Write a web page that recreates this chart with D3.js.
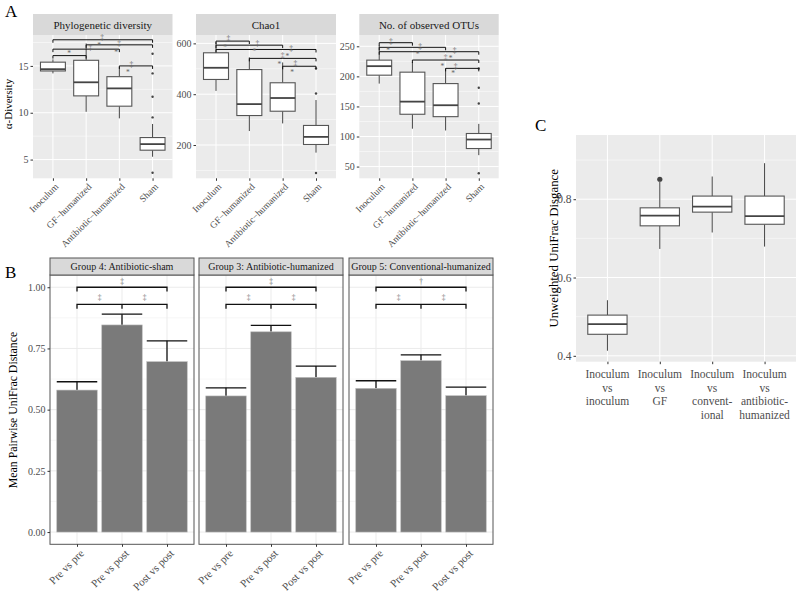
<!DOCTYPE html>
<html>
<head>
<meta charset="utf-8">
<script src="https://cdn.jsdelivr.net/npm/d3@7"></script>
<style>
  body { margin: 0; background: #fff; }
  svg text { font-family: "Liberation Serif", "DejaVu Serif", serif; }
</style>
</head>
<body>
<svg id="fig"></svg>
<script>
// ---- data ----
const alphaCats = ["Inoculum", "GF\u2212humanized", "Antibiotic\u2212humanized", "Sham"];
const alphaTitles = ["Phylogenetic diversity", "Chao1", "No. of observed OTUs"];

// [lower whisker, q1, median, q3, upper whisker]
const pdBoxes = [[14.2, 14.46, 14.65, 15.4, 15.7], [10.1, 11.8, 13.25, 15.6, 17.4], [9.4, 10.7, 12.6, 13.85, 14.9], [5.3, 6.0, 6.65, 7.35, 8.8]];
const pdOutliers = [[], [], [], [16.3, 14.2, 11.7, 9.5, 3.6]];
const pdTicks = [5, 10, 15];
const pdBrackets = [[0, 3, 17.79], [1, 3, 17.25], [0, 2, 16.79], [0, 1, 16.1], [2, 3, 15.0]];
const pdMarks = [[1.48, 18.08, "\u2021"], [1.99, 17.43, "\u2021"], [1.13, 17.0, "\u2021"], [1.39, 17.18, "*"], [0.49, 16.36, "*"], [1.9, 16.47, "*"], [2.36, 15.21, "\u2021"], [2.26, 14.28, "*"]];

const chaoBoxes = [[413, 458, 504, 563, 605], [255, 316, 361, 497, 545], [285, 333, 385, 445, 525], [170, 202, 232, 277, 377]];
const chaoOutliers = [[], [], [], [501, 403, 90]];
const chaoTicks = [200, 400, 600];
const chaoBrackets = [[0, 1, 609], [0, 2, 593], [0, 3, 576], [1, 3, 541], [2, 3, 510]];
const chaoMarks = [[0.37, 618, "\u2021"], [0.27, 584, "*"], [1.24, 600, "\u2021"], [1.15, 567, "*"], [2.25, 582, "\u2021"], [2.0, 551, "\u2021"], [2.14, 550, "*"], [1.9, 518, "*"], [2.38, 521, "\u2021"], [2.28, 484, "*"]];

const otuBoxes = [[188, 202, 217, 227, 252], [113, 137, 158, 207, 224], [110, 133, 152, 188, 213], [69, 80, 95, 105, 121]];
const otuOutliers = [[], [], [], [213, 181, 155, 39]];
const otuTicks = [50, 100, 150, 200, 250];
const otuBrackets = [[0, 1, 256], [0, 2, 248.3], [0, 3, 241], [1, 3, 227.2], [2, 3, 213.3]];
const otuMarks = [[0.35, 258, "\u2021"], [0.27, 243.8, "*"], [1.23, 250, "\u2021"], [1.16, 236.7, "*"], [2.27, 243, "\u2021"], [2.0, 231, "\u2021"], [2.15, 230, "*"], [1.9, 216, "*"], [2.3, 217, "\u2021"], [2.23, 205, "*"]];

const pairCats = ["Pre vs pre", "Pre vs post", "Post vs post"];
const groupNames = ["Group 4: Antibiotic-sham", "Group 3: Antibiotic-humanized", "Group 5: Conventional-humanized"];
const meanDist = [[0.58, 0.846, 0.696], [0.556, 0.818, 0.632], [0.587, 0.70, 0.557]];
const upperErr = [[0.614, 0.89, 0.781], [0.589, 0.844, 0.678], [0.618, 0.724, 0.592]];
const overallSig = ["\u2021", "\u2021", "\u2020"];
const pairSig = [["\u2021", "\u2021"], ["\u2021", "\u2021"], ["\u2021", "\u2021"]];
const bTicks = [0, 0.25, 0.5, 0.75, 1];

const cCats = [["Inoculum", "vs", "inoculum"], ["Inoculum", "vs", "GF"], ["Inoculum", "vs", "convent-", "ional"], ["Inoculum", "vs", "antibiotic-", "humanized"]];
const cBoxes = [[0.413, 0.455, 0.481, 0.504, 0.542], [0.673, 0.732, 0.758, 0.778, 0.845], [0.715, 0.767, 0.781, 0.808, 0.858], [0.679, 0.736, 0.757, 0.808, 0.892]];
const cOutliers = [[], [0.851], [], []];
const cTicks = [0.4, 0.6, 0.8];

// ---- drawing ----
const FONT = "Liberation Serif, DejaVu Serif, serif";
const svg = d3.select("#fig").attr("width", 797).attr("height", 594).attr("font-family", FONT);
svg.append("rect").attr("width", 797).attr("height", 594).attr("fill", "#fff");

function minorOf(ticks, dom) {
  const step = ticks[1] - ticks[0];
  const out = [];
  for (let v = ticks[0] - step / 2; v < dom[1] + step; v += step) {
    if (v > dom[0] && v < dom[1]) out.push(v);
  }
  return out;
}

function styleAxis(ax, size) {
  ax.attr("font-family", FONT);
  ax.select(".domain").remove();
  ax.selectAll("line").attr("stroke", "#333");
  ax.selectAll("text").attr("font-size", size).attr("fill", "#4d4d4d");
}

function drawBoxes(g, x, y, boxes, outliers, bw, ptR) {
  boxes.forEach((b, i) => {
    const cx = x(x.domain()[i]);
    g.append("line").attr("x1", cx).attr("x2", cx).attr("y1", y(b[0])).attr("y2", y(b[1]))
      .attr("stroke", "#444").attr("stroke-width", 1);
    g.append("line").attr("x1", cx).attr("x2", cx).attr("y1", y(b[3])).attr("y2", y(b[4]))
      .attr("stroke", "#444").attr("stroke-width", 1);
    g.append("rect").attr("x", cx - bw / 2).attr("y", y(b[3])).attr("width", bw).attr("height", y(b[1]) - y(b[3]))
      .attr("fill", "#fff").attr("stroke", "#555").attr("stroke-width", 1.1);
    g.append("line").attr("x1", cx - bw / 2).attr("x2", cx + bw / 2).attr("y1", y(b[2])).attr("y2", y(b[2]))
      .attr("stroke", "#444").attr("stroke-width", 1.8);
    outliers[i].forEach(v => {
      g.append("circle").attr("cx", cx).attr("cy", y(v)).attr("r", ptR).attr("fill", "#444");
    });
  });
}

// Panel A
svg.append("text").attr("x", 5).attr("y", 17).attr("font-size", 17).text("A");
const aFacets = [
  { boxes: pdBoxes, out: pdOutliers, ticks: pdTicks, br: pdBrackets, marks: pdMarks, dom: [3.0, 18.3], x0: 33, x1: 172.5 },
  { boxes: chaoBoxes, out: chaoOutliers, ticks: chaoTicks, br: chaoBrackets, marks: chaoMarks, dom: [69, 633], x0: 196, x1: 336 },
  { boxes: otuBoxes, out: otuOutliers, ticks: otuTicks, br: otuBrackets, marks: otuMarks, dom: [30.5, 268.8], x0: 359.3, x1: 498.7 }
];
const aTop = 35, aBot = 178.3;

aFacets.forEach((f, k) => {
  const g = svg.append("g");
  const x = d3.scalePoint().domain(alphaCats).range([f.x0, f.x1]).padding(0.6);
  const y = d3.scaleLinear().domain(f.dom).range([aBot, aTop]);
  // strip
  g.append("rect").attr("x", f.x0).attr("y", 14).attr("width", f.x1 - f.x0).attr("height", aTop - 14).attr("fill", "#d9d9d9");
  g.append("text").attr("x", (f.x0 + f.x1) / 2).attr("y", 28.5).attr("text-anchor", "middle")
    .attr("font-size", 11).attr("fill", "#1a1a1a").text(alphaTitles[k]);
  // panel
  g.append("rect").attr("x", f.x0).attr("y", aTop).attr("width", f.x1 - f.x0).attr("height", aBot - aTop).attr("fill", "#ebebeb");
  g.selectAll(".mn").data(minorOf(f.ticks, f.dom)).join("line")
    .attr("x1", f.x0).attr("x2", f.x1).attr("y1", d => y(d)).attr("y2", d => y(d))
    .attr("stroke", "#fff").attr("stroke-width", 0.5);
  g.selectAll(".mj").data(f.ticks).join("line")
    .attr("x1", f.x0).attr("x2", f.x1).attr("y1", d => y(d)).attr("y2", d => y(d))
    .attr("stroke", "#fff").attr("stroke-width", 1);
  g.selectAll(".vx").data(alphaCats).join("line")
    .attr("x1", d => x(d)).attr("x2", d => x(d)).attr("y1", aTop).attr("y2", aBot)
    .attr("stroke", "#fff").attr("stroke-width", 1);
  // axes
  styleAxis(g.append("g").attr("transform", `translate(${f.x0},0)`)
    .call(d3.axisLeft(y).tickValues(f.ticks).tickSize(2.5).tickPadding(2)), 10);
  styleAxis(g.append("g").attr("transform", `translate(0,${aBot})`)
    .call(d3.axisBottom(x).tickSize(2.5).tickFormat("")), 9);
  g.selectAll(".xl").data(alphaCats).join("text")
    .attr("transform", d => `translate(${x(d) + 2},${aBot + 5}) rotate(-45)`)
    .attr("text-anchor", "end").attr("dy", "0.6em").attr("font-size", 9.5).attr("fill", "#4d4d4d").text(d => d);
  // boxes
  drawBoxes(g, x, y, f.boxes, f.out, x.step() * 0.75, 1.2);
  // brackets
  const tick = 3;
  f.br.forEach(b => {
    const xa1 = x(alphaCats[b[0]]), xb1 = x(alphaCats[b[1]]), yy = y(b[2]);
    g.append("path").attr("d", `M${xa1},${yy + tick}V${yy}H${xb1}V${yy + tick}`)
      .attr("fill", "none").attr("stroke", "#111").attr("stroke-width", 1);
  });
  f.marks.forEach(m => {
    g.append("text").attr("x", x(alphaCats[0]) + m[0] * x.step()).attr("y", y(m[1]))
      .attr("dy", "0.35em").attr("text-anchor", "middle").attr("font-size", 7.5).attr("fill", "#666").text(m[2]);
  });
});
svg.append("text").attr("transform", "translate(12,104) rotate(-90)").attr("text-anchor", "middle")
  .attr("font-size", 11).text("\u03b1-Diversity");

// Panel B
svg.append("text").attr("x", 5).attr("y", 278).attr("font-size", 17).text("B");
const bX = [[50, 194], [199, 343], [349, 493]];
const bStripTop = 258, bTop = 275, bBot = 544.3;
const yB = d3.scaleLinear().domain([-0.05, 1.05]).range([bBot, bTop]);
groupNames.forEach((name, k) => {
  const [x0, x1] = bX[k];
  const g = svg.append("g");
  const x = d3.scalePoint().domain(pairCats).range([x0, x1]).padding(0.6);
  const bw = x.step() * 0.9;
  g.append("rect").attr("x", x0).attr("y", bTop).attr("width", x1 - x0).attr("height", bBot - bTop).attr("fill", "#fff");
  g.selectAll(".mn").data(minorOf(bTicks, [-0.05, 1.05])).join("line")
    .attr("x1", x0).attr("x2", x1).attr("y1", d => yB(d)).attr("y2", d => yB(d))
    .attr("stroke", "#f2f2f2").attr("stroke-width", 0.6);
  g.selectAll(".mj").data(bTicks).join("line")
    .attr("x1", x0).attr("x2", x1).attr("y1", d => yB(d)).attr("y2", d => yB(d))
    .attr("stroke", "#ebebeb").attr("stroke-width", 1);
  g.selectAll(".vx").data(pairCats).join("line")
    .attr("x1", d => x(d)).attr("x2", d => x(d)).attr("y1", bTop).attr("y2", bBot)
    .attr("stroke", "#ebebeb").attr("stroke-width", 1);
  // error bars (upper part)
  meanDist[k].forEach((v, i) => {
    const cx = x(pairCats[i]);
    g.append("line").attr("x1", cx).attr("x2", cx).attr("y1", yB(v)).attr("y2", yB(upperErr[k][i]))
      .attr("stroke", "#111").attr("stroke-width", 1.3);
    g.append("line").attr("x1", cx - bw / 2).attr("x2", cx + bw / 2).attr("y1", yB(upperErr[k][i])).attr("y2", yB(upperErr[k][i]))
      .attr("stroke", "#111").attr("stroke-width", 1.3);
  });
  g.selectAll(".bar").data(meanDist[k]).join("rect")
    .attr("x", (d, i) => x(pairCats[i]) - bw / 2).attr("y", d => yB(d))
    .attr("width", bw).attr("height", d => yB(0) - yB(d))
    .attr("fill", "#7a7a7a").attr("stroke", "#bdbdbd").attr("stroke-width", 0.6);
  // brackets
  const xa = x(pairCats[0]), xm = x(pairCats[1]), xb = x(pairCats[2]);
  const t = 4.3;
  g.append("path").attr("d", `M${xa},${yB(1) + t}V${yB(1)}H${xb}V${yB(1) + t}`)
    .attr("fill", "none").attr("stroke", "#111").attr("stroke-width", 1.3);
  const yl = yB(0.93);
  g.append("path").attr("d", `M${xa},${yl + t}V${yl}H${xb}V${yl + t}M${xm},${yl}V${yl + t}`)
    .attr("fill", "none").attr("stroke", "#111").attr("stroke-width", 1.3);
  g.append("text").attr("x", xm).attr("y", yB(1.025)).attr("dy", "0.35em").attr("text-anchor", "middle")
    .attr("font-size", 7.5).attr("fill", "#777").text(overallSig[k]);
  pairSig[k].forEach((s, i) => {
    g.append("text").attr("x", (x(pairCats[i]) + x(pairCats[i + 1])) / 2).attr("y", yB(0.958)).attr("dy", "0.35em")
      .attr("text-anchor", "middle").attr("font-size", 7.5).attr("fill", "#777").text(s);
  });
  // border + strip
  g.append("rect").attr("x", x0).attr("y", bTop).attr("width", x1 - x0).attr("height", bBot - bTop)
    .attr("fill", "none").attr("stroke", "#555").attr("stroke-width", 1);
  g.append("rect").attr("x", x0).attr("y", bStripTop).attr("width", x1 - x0).attr("height", bTop - bStripTop)
    .attr("fill", "#d9d9d9").attr("stroke", "#555").attr("stroke-width", 1);
  g.append("text").attr("x", (x0 + x1) / 2).attr("y", bStripTop + 12.3).attr("text-anchor", "middle")
    .attr("font-size", 10).attr("fill", "#1a1a1a").text(name);
  // axes
  if (k === 0) {
    styleAxis(g.append("g").attr("transform", `translate(${x0},0)`)
      .call(d3.axisLeft(yB).tickValues(bTicks).tickFormat(d3.format(".2f")).tickSize(2.5).tickPadding(2)), 10);
  }
  styleAxis(g.append("g").attr("transform", `translate(0,${bBot})`)
    .call(d3.axisBottom(x).tickSize(2.5).tickFormat("")), 10);
  g.selectAll(".xl").data(pairCats).join("text")
    .attr("transform", d => `translate(${x(d) + 3},${bBot + 5}) rotate(-45)`)
    .attr("text-anchor", "end").attr("dy", "0.6em").attr("font-size", 11).attr("fill", "#4d4d4d").text(d => d);
});
svg.append("text").attr("transform", "translate(17,410) rotate(-90)").attr("text-anchor", "middle")
  .attr("font-size", 11.8).text("Mean Pairwise UniFrac Distance");

// Panel C
svg.append("text").attr("x", 535).attr("y", 131).attr("font-size", 17).text("C");
(function () {
  const x0 = 576, x1 = 796, y0 = 135, y1 = 361.7;
  const dom = [0.385, 0.964];
  const g = svg.append("g");
  const keys = cCats.map(c => c.join(" "));
  const x = d3.scalePoint().domain(keys).range([x0, x1]).padding(0.6);
  const y = d3.scaleLinear().domain(dom).range([y1, y0]);
  g.append("rect").attr("x", x0).attr("y", y0).attr("width", x1 - x0).attr("height", y1 - y0).attr("fill", "#ebebeb");
  g.selectAll(".mn").data(minorOf(cTicks, dom)).join("line")
    .attr("x1", x0).attr("x2", x1).attr("y1", d => y(d)).attr("y2", d => y(d))
    .attr("stroke", "#fff").attr("stroke-width", 0.5);
  g.selectAll(".mj").data(cTicks).join("line")
    .attr("x1", x0).attr("x2", x1).attr("y1", d => y(d)).attr("y2", d => y(d))
    .attr("stroke", "#fff").attr("stroke-width", 1);
  g.selectAll(".vx").data(keys).join("line")
    .attr("x1", d => x(d)).attr("x2", d => x(d)).attr("y1", y0).attr("y2", y1)
    .attr("stroke", "#fff").attr("stroke-width", 1);
  drawBoxes(g, x, y, cBoxes, cOutliers, x.step() * 0.75, 2.6);
  styleAxis(g.append("g").attr("transform", `translate(${x0},0)`)
    .call(d3.axisLeft(y).tickValues(cTicks).tickFormat(d3.format(".1f")).tickSize(2.5).tickPadding(2)), 11.5);
  styleAxis(g.append("g").attr("transform", `translate(0,${y1})`)
    .call(d3.axisBottom(x).tickSize(2.5).tickFormat("")), 11);
  cCats.forEach((lines, i) => {
    const t = g.append("text").attr("x", x(keys[i])).attr("y", y1 + 16.5).attr("text-anchor", "middle")
      .attr("font-size", 11.5).attr("fill", "#4d4d4d");
    lines.forEach((l, j) => t.append("tspan").attr("x", x(keys[i])).attr("dy", j ? 13.6 : 0).text(l));
  });
  svg.append("text").attr("transform", `translate(558,${(y0 + y1) / 2}) rotate(-90)`).attr("text-anchor", "middle")
    .attr("font-size", 12.8).text("Unweighted UniFrac Disgance");
})();
</script>
</body>
</html>
